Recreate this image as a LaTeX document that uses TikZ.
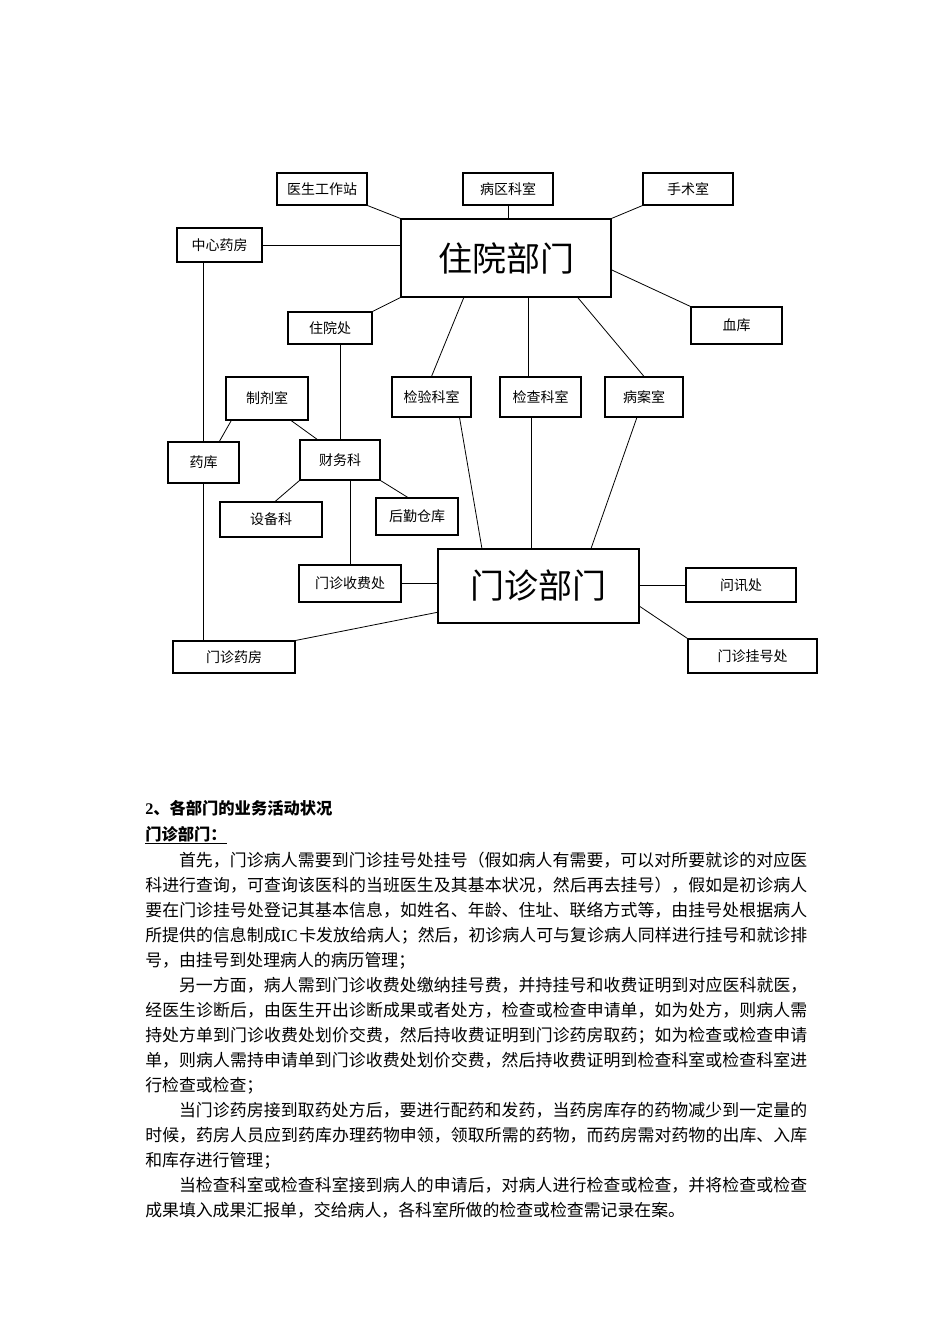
\documentclass[tikz,border=0pt]{standalone}
\usepackage{fontspec}
\setmainfont{Liberation Serif}
\newfontfamily\cjk{Noto Sans CJK SC}
\usetikzlibrary{calc}
\XeTeXlinebreaklocale "zh"
\XeTeXlinebreakskip=0pt plus 1pt

\tikzset{
  boxsize/.style 2 args={minimum width=#1*0.75pt, minimum height=#2*0.75pt},
  unit/.style={draw=black, line width=.8pt, inner sep=0pt, align=center,
    font=\cjk\fontsize{10.5}{12}\selectfont},
  dept/.style={unit, font=\cjk\fontsize{25.5}{30}\selectfont},
  link/.style={draw=black, line width=.6pt},
  headline/.style={anchor=base west, inner sep=0pt, font=\cjk\bfseries\fontsize{12.2}{14}\selectfont},
  para/.style={anchor=base west, inner sep=0pt, text width=496.5pt, align=justify,
    font=\cjk\fontsize{12.65}{18.75}\selectfont}
}

\begin{document}
\begin{tikzpicture}[x=0.75pt, y=-0.75pt]
  \path[use as bounding box, fill=white] (0,0) rectangle (950,1344);

  % inpatient side
  \node[dept, boxsize={210}{78}] (inpatient) at (506,258) {住院部门};
  \node[unit, boxsize={90}{32}] (docstation) at (322,189) {医生工作站};
  \node[unit, boxsize={90}{32}] (wardrooms) at (508,189) {病区科室};
  \node[unit, boxsize={90}{32}] (surgery) at (688,189) {手术室};
  \node[unit, boxsize={85}{34}] (pharmacy) at (219.5,245) {中心药房};
  \node[unit, boxsize={91}{37}] (bloodbank) at (736.5,325.5) {血库};
  \node[unit, boxsize={84}{32}] (admission) at (330,328) {住院处};

  % shared rooms
  \node[unit, boxsize={79}{40}] (labtest) at (431.5,397) {检验科室};
  \node[unit, boxsize={81}{40}] (exam) at (540.5,397) {检查科室};
  \node[unit, boxsize={78}{40}] (records) at (644,397) {病案室};
  \node[unit, boxsize={82}{43}] (prep) at (267,398.5) {制剂室};
  \node[unit, boxsize={71}{41}] (store) at (203.5,462.5) {药库};
  \node[unit, boxsize={80}{40}] (finance) at (340,460) {财务科};
  \node[unit, boxsize={102}{35}] (equip) at (271,519.5) {设备科};
  \node[unit, boxsize={82}{37}] (logistics) at (417,516.5) {后勤仓库};

  % outpatient side
  \node[dept, boxsize={201}{74}] (outpatient) at (538.5,586) {门诊部门};
  \node[unit, boxsize={102}{37}] (cashier) at (350,583.5) {门诊收费处};
  \node[unit, boxsize={122}{32}] (outpharm) at (234,657) {门诊药房};
  \node[unit, boxsize={110}{34}] (inquiry) at (741,585) {问讯处};
  \node[unit, boxsize={129}{34}] (registry) at (752.5,656) {门诊挂号处};

  \draw[link] (docstation.south east) -- (inpatient.north west);
  \draw[link] (wardrooms.south) -- (wardrooms.south |- inpatient.north);
  \draw[link] (surgery.south west) -- (inpatient.north east);
  \draw[link] (pharmacy.east) -- (pharmacy.east -| inpatient.west);
  \draw[link] ($(inpatient.north east)!.65!(inpatient.south east)$) -- (bloodbank.north west);
  \draw[link] (admission.north east) -- (inpatient.south west);
  \draw[link] ($(inpatient.south west)!.3!(inpatient.south east)$) -- (labtest.north);
  \draw[link] ([xshift=-9pt]exam.north) -- ([xshift=-9pt]exam.north |- inpatient.south);
  \draw[link] ($(inpatient.south west)!.84!(inpatient.south east)$) -- (records.north);

  \draw[link] (store.north) -- (store.north |- pharmacy.south);
  \draw[link] (store.south) -- (store.south |- outpharm.north);
  \draw[link] ($(prep.south west)!.07!(prep.south east)$) -- ($(store.north west)!.72!(store.north east)$);
  \draw[link] ($(prep.south west)!.79!(prep.south east)$) -- ($(finance.north west)!.22!(finance.north east)$);
  \draw[link] (finance.north) -- (finance.north |- admission.south);
  \draw[link] (finance.south west) -- ($(equip.north west)!.54!(equip.north east)$);
  \draw[link] (finance.south east) -- ($(logistics.north west)!.39!(logistics.north east)$);
  \draw[link] (cashier.north) -- (cashier.north |- finance.south);

  \draw[link] (cashier.east) -- (cashier.east -| outpatient.west);
  \draw[link] ($(outpatient.north west)!.85!(outpatient.south west)$) -- (outpharm.north east);
  \draw[link] ($(labtest.south west)!.85!(labtest.south east)$) -- ($(outpatient.north west)!.22!(outpatient.north east)$);
  \draw[link] ([xshift=-7pt]exam.south) -- ([xshift=-7pt]exam.south |- outpatient.north);
  \draw[link] ($(records.south west)!.41!(records.south east)$) -- ($(outpatient.north west)!.76!(outpatient.north east)$);
  \draw[link] (inquiry.west) -- (inquiry.west -| outpatient.east);
  \draw[link] ($(outpatient.north east)!.77!(outpatient.south east)$) -- (registry.north west);

  % text below the chart
  \node[headline] (heading) at (145,814) {{\rmfamily\bfseries 2}、各部门的业务活动状况};
  \node[headline] (subhead) at (145,840) {\underline{门诊部门：}};

  \node[para] (para1) at (145,866.5) {\hspace*{2em}首先，门诊病人需要到门诊挂号处挂号（假如病人有需要，可以对所要就诊的对应医\linebreak
    科进行查询，可查询该医科的当班医生及其基本状况，然后再去挂号），假如是初诊病人\linebreak
    要在门诊挂号处登记其基本信息，如姓名、年龄、住址、联络方式等，由挂号处根据病人\linebreak
    所提供的信息制成{\rmfamily IC}\hspace{.1em}卡发放给病人；然后，初诊病人可与复诊病人同样进行挂号和就诊排\linebreak
    号，由挂号到处理病人的病历管理；};
  \node[para] (para2) at (145,991.5) {\hspace*{2em}另一方面，病人需到门诊收费处缴纳挂号费，并持挂号和收费证明到对应医科就医，\linebreak
    经医生诊断后，由医生开出诊断成果或者处方，检查或检查申请单，如为处方，则病人需\linebreak
    持处方单到门诊收费处划价交费，然后持收费证明到门诊药房取药；如为检查或检查申请\linebreak
    单，则病人需持申请单到门诊收费处划价交费，然后持收费证明到检查科室或检查科室进\linebreak
    行检查或检查；};
  \node[para] (para3) at (145,1116.5) {\hspace*{2em}当门诊药房接到取药处方后，要进行配药和发药，当药房库存的药物减少到一定量的\linebreak
    时候，药房人员应到药库办理药物申领，领取所需的药物，而药房需对药物的出库、入库\linebreak
    和库存进行管理；};
  \node[para] (para4) at (145,1191.5) {\hspace*{2em}当检查科室或检查科室接到病人的申请后，对病人进行检查或检查，并将检查或检查\linebreak
    成果填入成果汇报单，交给病人，各科室所做的检查或检查需记录在案。};
\end{tikzpicture}
\end{document}
